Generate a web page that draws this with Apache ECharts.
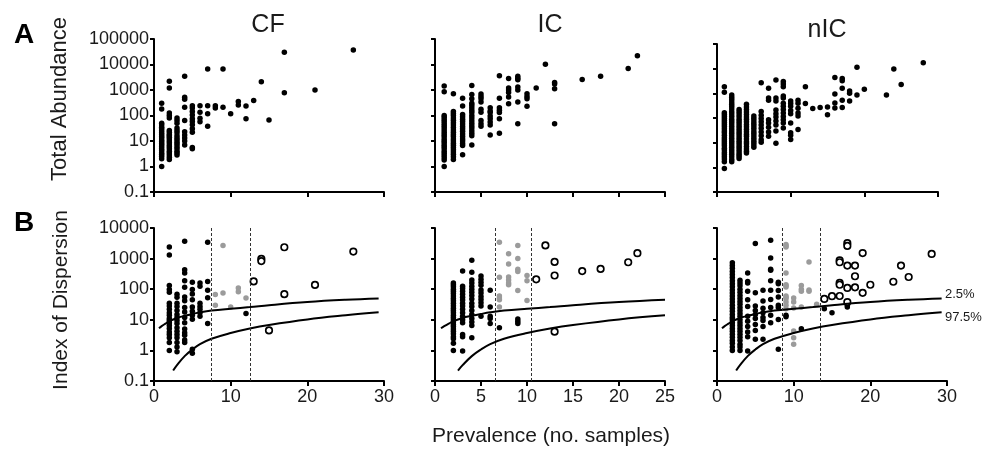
<!DOCTYPE html>
<html>
<head>
<meta charset="utf-8">
<script src="https://cdn.jsdelivr.net/npm/echarts@6/dist/echarts.min.js"></script>
<style>
  html, body { margin: 0; padding: 0; background: #fff; }
  #main { width: 982px; height: 449px; }
</style>
</head>
<body>
<div id="main"></div>
<script>
// 每列: [prevalence, [values...]]
var cfAbund = [
  [1, [300, 180, 50, 42, 35, 30, 25, 21, 18, 15, 13, 11, 9.5, 8, 7, 6, 5, 4.2, 3.5, 3, 2.5, 2, 1]],
  [2, [2200, 1200, 125, 100, 80, 26, 22, 18, 16, 14, 12, 10, 8.5, 7, 6, 5, 4, 3.4, 2.8, 2.3, 1.9]],
  [3, [80, 63, 50, 32, 26, 21, 16, 13, 11, 9, 7.5, 6, 5, 4, 3.4, 2.8]],
  [4, [3500, 520, 430, 210, 63, 23, 17, 13, 10, 7]],
  [5, [240, 195, 145, 105, 75, 58, 43, 30, 22, 5.6, 5]],
  [6, [240, 135, 78, 57]],
  [7, [6600, 240, 117, 38]],
  [8, [240, 195]],
  [9, [6600, 210]],
  [10, [117]],
  [11, [355, 260]],
  [12, [235, 74]],
  [13, [390]],
  [14, [2100]],
  [15, [67]],
  [17, [30000, 780]],
  [21, [1000]],
  [26, [37000]]
];
var icAbund = [
  [1, [1450, 850, 100, 85, 70, 58, 48, 40, 33, 27, 22, 18, 15, 12, 10, 8.5, 7, 6, 5, 4, 3.3, 2.7, 2.2, 1.8, 1]],
  [2, [720, 145, 120, 100, 80, 65, 52, 42, 34, 27, 22, 18, 15, 12, 10, 8.2, 6.8, 5.5, 4.5, 3.7, 3, 2.4, 1.9]],
  [3, [480, 235, 110, 90, 72, 58, 46, 37, 30, 24, 19, 15, 12, 10, 8, 6.6, 2.9]],
  [4, [1500, 660, 450, 300, 250, 200, 160, 130, 100, 80, 62, 50, 40, 32, 25, 20, 16, 7]],
  [5, [690, 550, 450, 340, 175, 135, 63, 48, 38]],
  [6, [200, 150, 130, 95, 75, 55, 42, 17]],
  [7, [3600, 480, 200, 160, 130, 74, 20]],
  [8, [2800, 1200, 1000, 800, 530, 290]],
  [9, [3500, 2900, 2500, 1300, 1000, 340, 47]],
  [10, [720, 560, 450, 230]],
  [11, [1200]],
  [12, [10300]],
  [13, [1950, 1700, 1130, 47]],
  [16, [2600]],
  [18, [3500]],
  [21, [6900]],
  [22, [22000]]
];
var nicAbund = [
  [1, [1850, 1100, 165, 140, 115, 95, 80, 65, 55, 45, 37, 30, 25, 20, 16, 13, 11, 9, 7.5, 6, 5, 4, 3.3, 2.7, 2.2, 1.7, 0.9]],
  [2, [850, 700, 560, 450, 360, 290, 230, 180, 145, 115, 90, 72, 58, 46, 37, 30, 24, 19, 15, 12, 10, 8, 6.5, 5.2, 4.2, 3.4, 2.7, 2.1, 1.7]],
  [3, [220, 180, 145, 115, 90, 72, 58, 46, 37, 30, 24, 19, 15, 12, 10, 8, 6.5, 5.2, 4.2, 3.4, 2.8, 2.3]],
  [4, [360, 280, 220, 175, 140, 110, 88, 70, 55, 44, 35, 28, 22, 18, 14, 11, 9, 7, 5.5, 4.5, 3.8]],
  [5, [120, 95, 75, 60, 48, 38, 30, 24, 19, 15, 12, 10, 8, 6.5]],
  [6, [2700, 185, 130, 95, 70, 52, 38, 27, 19, 13, 10.5]],
  [7, [1600, 650, 520, 85, 62, 42, 27, 18]],
  [8, [3500, 650, 490, 210, 150, 110, 75, 52, 30, 9.4]],
  [9, [3000, 2400, 1850, 780, 650, 400, 300, 220, 160, 115, 85, 62, 39]],
  [10, [490, 390, 300, 200, 150, 62, 25, 20, 13.5]],
  [11, [520, 400, 250, 160, 120, 34]],
  [12, [1850, 390]],
  [13, [240]],
  [14, [265]],
  [15, [280, 137]],
  [16, [4400, 930, 410, 255]],
  [17, [4000, 3200, 1590, 525, 265]],
  [18, [1230, 1000, 490]],
  [19, [11500, 850]],
  [20, [1480]],
  [23, [850]],
  [24, [9600]],
  [25, [2300]],
  [28, [17500]]
];

// index of dispersion: black / grey / open
var cfDispBlack = [
  [2, [2400, 1300, 133, 98, 80, 35, 28, 22, 17, 14, 11, 9.5, 8, 6.5, 5.2, 4, 3.3, 2.6, 1.8, 1]],
  [3, [68, 55, 35, 27, 20, 15, 12, 9.5, 7.5, 5.5, 4.2, 3.3, 2.6, 1.8, 1.3, 0.9]],
  [4, [3700, 435, 340, 190, 115, 56, 42, 25, 18, 12, 8, 5, 3.8, 3.1, 2.2, 1.8]],
  [5, [170, 98, 70, 45, 26, 19, 14, 10.5, 1.1, 0.8]],
  [6, [160, 125, 35, 27, 22, 17, 13]],
  [7, [3400, 180, 93, 53, 7.6]],
  [12, [16]]
];
var cfDispGrey = [[8, [67, 30]], [9, [2700, 75]], [10, [26]], [11, [110, 82]], [12, [52]]];
var cfDispOpen = [[13, [180]], [14, [980, 830]], [15, [4.5]], [17, [2350, 69]], [21, [138]], [26, [1700]]];

var icDispBlack = [
  [2, [160, 140, 120, 100, 85, 72, 60, 50, 42, 35, 29, 24, 20, 17, 14, 12, 10, 8.5, 7, 6, 5, 4.2, 3.5, 2.8, 2.4, 1.7, 1]],
  [3, [390, 125, 105, 85, 68, 55, 44, 35, 28, 22, 17, 13, 10, 8, 3.3, 2.8, 0.95]],
  [4, [890, 360, 200, 160, 125, 100, 80, 62, 48, 35, 27, 20, 15, 11, 8.5, 6.5, 2.6]],
  [5, [270, 210, 170, 135, 95, 75, 58, 46, 36, 28, 13]],
  [6, [93, 26, 13, 11, 7.6]],
  [7, [5.5]],
  [9, [10.7, 9, 7.6]]
];
var icDispGrey = [
  [7, [3400, 245, 60, 52, 45, 26]],
  [8, [1450, 670, 250, 200, 160, 140]],
  [9, [2700, 1000, 450, 380, 91]],
  [10, [280, 190, 43]]
];
var icDispOpen = [[11, [210]], [12, [2700]], [13, [780, 280, 4.1]], [16, [390]], [18, [460]], [21, [760]], [22, [1500]]];

var nicDispBlack = [
  [2, [730, 600, 480, 380, 300, 240, 190, 150, 120, 95, 75, 60, 48, 38, 30, 24, 19, 15, 12, 10, 8, 6.5, 5.2, 4.2, 3.4, 2.7, 2.1, 1.7, 1.3, 1]],
  [3, [195, 160, 130, 100, 80, 62, 50, 40, 32, 25, 20, 16, 13, 10, 8, 6.5, 5.2, 4.2, 3.4, 2.7, 2.1, 1.6, 1.3, 1]],
  [4, [340, 180, 160, 85, 45, 27, 13, 9, 6, 4, 2.8, 0.95]],
  [5, [3100, 76, 28, 20, 15, 11, 7, 4.5, 2.3]],
  [6, [93, 41, 24, 17, 12, 9.5, 6, 2.3]],
  [7, [4000, 1050, 450, 420, 190, 93, 46, 25, 14, 8]],
  [8, [170, 150, 90, 56, 30, 25, 10.2, 1.1]],
  [9, [14, 12.6]],
  [11, [5.1]],
  [14, [23]],
  [15, [17]],
  [17, [30, 26]]
];
var nicDispGrey = [
  [9, [2900, 2600, 2400, 340, 140, 130, 118, 60, 55, 49, 38, 30, 23]],
  [10, [52, 38, 24.5, 4.3, 2.6, 1.6]],
  [11, [132, 100, 85, 26]],
  [12, [780, 95, 85]],
  [13, [32]]
];
var nicDispOpen = [
  [14, [48]], [15, [59]], [16, [880, 760, 160, 140, 60]], [17, [3200, 2600, 590, 110, 38]],
  [18, [590, 265, 115]], [19, [1520, 76]], [20, [140]], [23, [175]], [24, [590]], [25, [250]], [28, [1420]]
];

// 置信曲线 (2.5% / 97.5%)
var upperX = [0.65, 1, 1.5, 2, 3, 4, 5, 6, 7.5, 10, 12.5, 15, 20, 25, 29.3];
var upperY = [5.3, 6.2, 7.5, 9, 11.5, 13.5, 15.5, 17.5, 20, 23, 26, 30, 38, 45, 50];
var lowerX = [2.5, 3, 4, 5, 6, 7.5, 10, 12.5, 15, 20, 25, 29.3];
var lowerY = [0.22, 0.33, 0.65, 1.07, 1.6, 2.4, 3.7, 5.2, 6.8, 10.3, 14, 17.5];

// 分界虚线
var cfCuts = [7.5, 12.5];
var icCuts = [6.5, 10.5];
var nicCuts = [8.5, 13.5];

var titles = ['CF', 'IC', 'nIC'];
var xMax = [30, 25, 30];
var xStep = [10, 5, 10];

var FONT = '"Liberation Sans", Arial, Helvetica, sans-serif';

function pts(cols) {
  var out = [];
  cols.forEach(function (c) {
    c[1].forEach(function (v) { out.push([c[0], v]); });
  });
  return out;
}
function curve(xs, ys, max) {
  var out = [];
  for (var i = 0; i < xs.length; i++) {
    if (xs[i] <= max) out.push([xs[i], ys[i]]);
  }
  return out;
}

var grids = [
  { left: 154, top: 39, width: 230, height: 153 },
  { left: 435, top: 39, width: 230, height: 153 },
  { left: 717, top: 44, width: 221, height: 148 },
  { left: 154, top: 228, width: 230, height: 153 },
  { left: 435, top: 228, width: 230, height: 153 },
  { left: 717, top: 228, width: 230, height: 153 }
];

var xAxes = [], yAxes = [];
for (var i = 0; i < 6; i++) {
  var col = i % 3, bottom = i >= 3;
  xAxes.push({
    gridIndex: i, type: 'value', min: 0, max: xMax[col], interval: xStep[col],
    axisLine: { show: true, onZero: false, lineStyle: { color: '#000', width: 2 } },
    axisTick: { show: true, length: 5, lineStyle: { color: '#000', width: 2 } },
    splitLine: { show: false },
    axisLabel: { show: bottom, color: '#1a1a1a', fontSize: 18, fontFamily: FONT, margin: 7 }
  });
  yAxes.push({
    gridIndex: i, type: 'log', logBase: 10,
    min: 0.1, max: bottom ? 10000 : 100000, splitNumber: bottom ? 5 : 6,
    axisLine: { show: true, lineStyle: { color: '#000', width: 2 } },
    axisTick: { show: true, length: 4, lineStyle: { color: '#000', width: 2 } },
    splitLine: { show: false },
    axisLabel: {
      show: col === 0, color: '#1a1a1a', fontSize: 18, fontFamily: FONT, margin: 5,
      formatter: function (v) { return String(+Number(v).toPrecision(6)); }
    }
  });
}

var series = [];
function dots(idx, data, color) {
  return { type: 'scatter', xAxisIndex: idx, yAxisIndex: idx, data: data,
    symbolSize: 5.5, itemStyle: { color: color, opacity: 1 }, z: 3 };
}
[cfAbund, icAbund, nicAbund].forEach(function (d, k) {
  series.push(dots(k, pts(d), '#000'));
});

var dispSets = [
  [cfDispBlack, cfDispGrey, cfDispOpen, cfCuts],
  [icDispBlack, icDispGrey, icDispOpen, icCuts],
  [nicDispBlack, nicDispGrey, nicDispOpen, nicCuts]
];
dispSets.forEach(function (s, k) {
  var idx = k + 3;
  var black = dots(idx, pts(s[0]), '#000');
  black.markLine = {
    silent: true, symbol: ['none', 'none'], label: { show: false },
    lineStyle: { type: [3, 2], color: '#333', width: 1 },
    data: s[3].map(function (c) { return { xAxis: c }; })
  };
  series.push(black);
  series.push(dots(idx, pts(s[1]), '#9b9b9b'));
  series.push({ type: 'scatter', xAxisIndex: idx, yAxisIndex: idx, data: pts(s[2]),
    symbolSize: 6.5, itemStyle: { color: '#fff', borderColor: '#000', borderWidth: 1.7, opacity: 1 }, z: 3 });
  series.push({ type: 'line', xAxisIndex: idx, yAxisIndex: idx, smooth: 0.4, symbol: 'none',
    data: curve(upperX, upperY, xMax[k]), lineStyle: { color: '#000', width: 2 }, z: 4 });
  series.push({ type: 'line', xAxisIndex: idx, yAxisIndex: idx, smooth: 0.4, symbol: 'none',
    data: curve(lowerX, lowerY, xMax[k]), lineStyle: { color: '#000', width: 2 }, z: 4 });
});

function txt(x, y, text, size, opts) {
  opts = opts || {};
  return {
    type: 'text', x: x, y: y, rotation: opts.rot || 0, z: 10,
    style: {
      text: text, fill: opts.color || '#1a1a1a',
      font: (opts.bold ? 'bold ' : '') + size + 'px ' + FONT,
      align: opts.align || 'center', verticalAlign: 'middle'
    }
  };
}

var graphics = [
  txt(24, 35, 'A', 28, { bold: true, color: '#000' }),
  txt(24, 223, 'B', 28, { bold: true, color: '#000' }),
  txt(268, 25, titles[0], 25),
  txt(550, 25, titles[1], 25),
  txt(827, 30, titles[2], 25),
  txt(60, 99, 'Total Abundance', 22, { rot: Math.PI / 2 }),
  txt(61, 300, 'Index of Dispersion', 21, { rot: Math.PI / 2 }),
  txt(551, 436, 'Prevalence (no. samples)', 21),
  txt(945, 294, '2.5%', 13, { align: 'left' }),
  txt(945, 317, '97.5%', 13, { align: 'left' })
];

var chart = echarts.init(document.getElementById('main'), null, { renderer: 'canvas' });
chart.setOption({
  animation: false,
  backgroundColor: '#fff',
  grid: grids,
  xAxis: xAxes,
  yAxis: yAxes,
  series: series,
  graphic: graphics
});
</script>
</body>
</html>
